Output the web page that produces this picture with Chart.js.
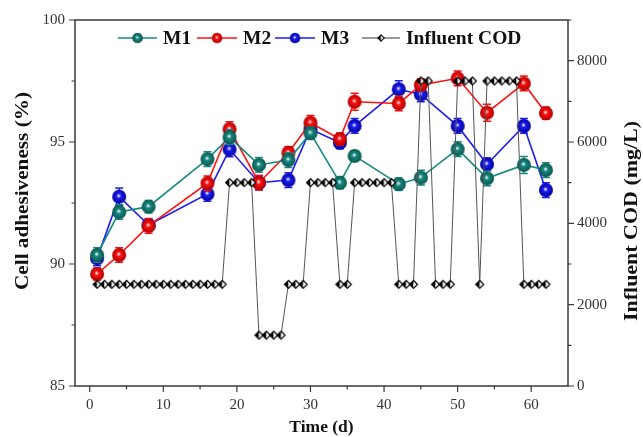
<!DOCTYPE html>
<html>
<head>
<meta charset="utf-8">
<script src="https://cdn.jsdelivr.net/npm/chart.js@4/dist/chart.umd.min.js"></script>
<style>
  html, body { margin: 0; padding: 0; background: #fff; }
  #wrap { width: 643px; height: 437px; }
</style>
</head>
<body>
<div id="wrap"><canvas id="chart" width="643" height="437"></canvas></div>
<script>
// sampling days for the three membranes
const sampleDays = [1, 4, 8, 16, 19, 23, 27, 30, 34, 36, 42, 45, 50, 54, 59, 62];

const m1Values = [90.37, 92.13, 92.35, 94.3, 95.2, 94.06, 94.26, 95.36, 93.33, 94.43, 93.27, 93.54, 94.71, 93.51, 94.06, 93.85];
const m2Values = [89.59, 90.37, 91.56, 93.31, 95.53, 93.33, 94.56, 95.79, 95.12, 96.65, 96.58, 97.34, 97.61, 96.2, 97.4, 96.18];
const m3Values = [90.23, 92.76, 91.6, 92.87, 94.7, 93.33, 93.44, 95.53, 94.97, 95.66, 97.16, 96.95, 95.66, 94.09, 95.66, 93.03];

const m1Errors = [0.3, 0.3, 0.25, 0.3, 0.3, 0.3, 0.3, 0.25, 0.25, 0.2, 0.25, 0.3, 0.3, 0.3, 0.35, 0.3];
const m2Errors = [0.25, 0.3, 0.3, 0.3, 0.3, 0.3, 0.25, 0.3, 0.25, 0.35, 0.3, 0.25, 0.3, 0.35, 0.3, 0.25];
const m3Errors = [0.3, 0.35, 0.25, 0.3, 0.3, 0.3, 0.3, 0.3, 0.25, 0.3, 0.35, 0.3, 0.3, 0.25, 0.3, 0.3];

// daily influent COD (mg/L)
const codDays = [
  1, 2, 3, 4, 5, 6, 7, 8, 9, 10, 11, 12, 13, 14, 15, 16, 17, 18, 19, 20, 21,
  22, 23, 24, 25, 26, 27, 28, 29, 30, 31, 32, 33, 34, 35, 36, 37, 38, 39, 40, 41,
  42, 43, 44, 45, 46, 47, 48, 49, 50, 51, 52, 53, 54, 55, 56, 57, 58, 59, 60, 61, 62
];
const codValues = [
  2500, 2500, 2500, 2500, 2500, 2500, 2500, 2500, 2500, 2500, 2500, 2500, 2500, 2500, 2500, 2500, 2500, 2500,
  5000, 5000, 5000, 5000,
  1250, 1250, 1250, 1250,
  2500, 2500, 2500,
  5000, 5000, 5000, 5000,
  2500, 2500,
  5000, 5000, 5000, 5000, 5000, 5000,
  2500, 2500, 2500,
  7500, 7500,
  2500, 2500, 2500,
  7500, 7500, 7500,
  2500,
  7500, 7500, 7500, 7500, 7500,
  2500, 2500, 2500, 2500
];

const xTicks = [0, 10, 20, 30, 40, 50, 60];
const leftTicks = [85, 90, 95, 100];
const rightTicks = [0, 2000, 4000, 6000, 8000];

const SERIF = '"Liberation Serif", "Times New Roman", serif';
const AXIS = '#3a3a3a';

function sphere(color, dark) {
  const c = document.createElement('canvas');
  c.width = 16; c.height = 16;
  const g = c.getContext('2d');
  const grad = g.createRadialGradient(7.5, 7, 0.3, 8, 8, 7.5);
  grad.addColorStop(0, '#f4f4f4');
  grad.addColorStop(0.28, color);
  grad.addColorStop(1, dark);
  g.fillStyle = grad;
  g.beginPath();
  g.arc(8, 8, 7, 0, Math.PI * 2);
  g.fill();
  return c;
}

function halfDiamond() {
  const c = document.createElement('canvas');
  c.width = 11; c.height = 11;
  const g = c.getContext('2d');
  g.beginPath();
  g.moveTo(5.5, 1.5); g.lineTo(1.5, 5.5); g.lineTo(5.5, 9.5); g.closePath();
  g.fillStyle = '#000'; g.fill();
  g.beginPath();
  g.moveTo(5.5, 1.5); g.lineTo(9.5, 5.5); g.lineTo(5.5, 9.5); g.closePath();
  g.fillStyle = '#fff'; g.fill();
  g.beginPath();
  g.moveTo(5.5, 1.5); g.lineTo(9.5, 5.5); g.lineTo(5.5, 9.5); g.lineTo(1.5, 5.5); g.closePath();
  g.strokeStyle = '#000'; g.lineWidth = 1.2; g.stroke();
  return c;
}

const series = [
  { label: 'M1', values: m1Values, errors: m1Errors, color: '#168a80', dark: '#0b4f49' },
  { label: 'M2', values: m2Values, errors: m2Errors, color: '#ff1010', dark: '#a00000' },
  { label: 'M3', values: m3Values, errors: m3Errors, color: '#1c1cf5', dark: '#00008f' }
];

const diamond = halfDiamond();

const datasets = [{
  label: 'Influent COD',
  data: codDays.map((d, i) => ({ x: d, y: codValues[i] })),
  yAxisID: 'y2',
  borderColor: '#555',
  borderWidth: 1,
  pointStyle: diamond,
  pointRadius: 5,
  tension: 0
}];
series.forEach(s => {
  s.img = sphere(s.color, s.dark);
  datasets.push({
    label: s.label,
    data: sampleDays.map((d, i) => ({ x: d, y: s.values[i] })),
    errors: s.errors,
    yAxisID: 'y',
    borderColor: s.color,
    borderWidth: 1.6,
    pointStyle: s.img,
    pointRadius: 7,
    tension: 0
  });
});

// error bars go under each line's markers
const errorBars = {
  id: 'errorBars',
  beforeDatasetDraw(chart, args) {
    const ds = chart.data.datasets[args.index];
    if (!ds.errors) return;
    const ys = chart.scales.y;
    const ctx = chart.ctx;
    ctx.save();
    ctx.strokeStyle = ds.borderColor;
    ctx.lineWidth = 1.5;
    args.meta.data.forEach((pt, i) => {
      const v = ds.data[i].y, e = ds.errors[i];
      const top = ys.getPixelForValue(v + e);
      const bot = ys.getPixelForValue(v - e);
      ctx.beginPath();
      ctx.moveTo(pt.x, top); ctx.lineTo(pt.x, bot);
      ctx.moveTo(pt.x - 4, top); ctx.lineTo(pt.x + 4, top);
      ctx.moveTo(pt.x - 4, bot); ctx.lineTo(pt.x + 4, bot);
      ctx.stroke();
    });
    ctx.restore();
  }
};

// vertical title stretched to a given length
function sideTitle(ctx, text, x, y, length) {
  ctx.save();
  ctx.translate(x, y);
  ctx.rotate(-Math.PI / 2);
  const w = ctx.measureText(text).width;
  ctx.scale(length / w, 1);
  ctx.fillText(text, 0, 0);
  ctx.restore();
}

// frame, tick marks, axis titles and the in-plot legend
const decorations = {
  id: 'decorations',
  afterDraw(chart) {
    const ctx = chart.ctx;
    const a = chart.chartArea;
    const xs = chart.scales.x, yl = chart.scales.y, yr = chart.scales.y2;
    ctx.save();
    ctx.strokeStyle = AXIS;
    ctx.lineWidth = 1.5;
    ctx.strokeRect(a.left, a.top, a.right - a.left, a.bottom - a.top);

    ctx.lineWidth = 1.2;
    ctx.beginPath();
    for (let v = 0; v <= 60; v += 5) {
      const px = xs.getPixelForValue(v);
      const len = v % 10 === 0 ? 6 : 3.5;
      ctx.moveTo(px, a.bottom); ctx.lineTo(px, a.bottom + len);
    }
    for (let v = 85; v <= 100; v += 2.5) {
      const py = yl.getPixelForValue(v);
      const len = v % 5 === 0 ? 6 : 3.5;
      ctx.moveTo(a.left, py); ctx.lineTo(a.left - len, py);
    }
    for (let v = 0; v <= 9000; v += 1000) {
      const py = yr.getPixelForValue(v);
      const len = v % 2000 === 0 ? 6 : 3.5;
      ctx.moveTo(a.right, py); ctx.lineTo(a.right + len, py);
    }
    ctx.stroke();

    ctx.fillStyle = '#111';
    ctx.font = 'bold 17.5px ' + SERIF;
    ctx.textAlign = 'center';
    ctx.textBaseline = 'middle';
    ctx.fillText('Time (d)', (a.left + a.right) / 2, 427);

    ctx.font = 'bold 19px ' + SERIF;
    sideTitle(ctx, 'Cell adhesiveness (%)', 23, 191, 198);
    sideTitle(ctx, 'Influent COD (mg/L)', 632, 221, 200);

    // legend
    const ly = 38;
    const items = [
      { x: 118, text: 'M1', color: series[0].color, img: series[0].img, w: 39 },
      { x: 197, text: 'M2', color: series[1].color, img: series[1].img, w: 40 },
      { x: 275, text: 'M3', color: series[2].color, img: series[2].img, w: 40 },
      { x: 362, text: 'Influent COD', color: '#333', img: diamond, w: 38 }
    ];
    ctx.font = 'bold 19.5px ' + SERIF;
    ctx.textAlign = 'left';
    items.forEach(it => {
      ctx.strokeStyle = it.color;
      ctx.lineWidth = it.img === diamond ? 1 : 1.6;
      ctx.beginPath();
      ctx.moveTo(it.x, ly); ctx.lineTo(it.x + it.w, ly);
      ctx.stroke();
      const s = it.img === diamond ? 9 : 12;
      ctx.drawImage(it.img, it.x + it.w / 2 - s / 2, ly - s / 2, s, s);
      ctx.fillStyle = '#111';
      ctx.fillText(it.text, it.x + it.w + 6, ly + 1);
    });
    ctx.restore();
  }
};

new Chart(document.getElementById('chart'), {
  type: 'line',
  data: { datasets: datasets },
  plugins: [errorBars, decorations],
  options: {
    responsive: false,
    animation: false,
    layout: { padding: { top: 20, left: 0, right: 0, bottom: 0 } },
    plugins: { legend: { display: false }, tooltip: { enabled: false } },
    scales: {
      x: {
        type: 'linear',
        min: -2,
        max: 65,
        afterFit: s => { s.height = 51; },
        afterBuildTicks: s => { s.ticks = xTicks.map(v => ({ value: v })); },
        grid: { display: false, drawTicks: false },
        border: { display: false },
        ticks: { padding: 10, color: '#333', font: { family: SERIF, size: 15 }, maxRotation: 0 }
      },
      y: {
        position: 'left',
        min: 85,
        max: 100,
        afterFit: s => { s.width = 75; },
        afterBuildTicks: s => { s.ticks = leftTicks.map(v => ({ value: v })); },
        grid: { display: false, drawTicks: false },
        border: { display: false },
        ticks: { padding: 10, color: '#333', font: { family: SERIF, size: 15 } }
      },
      y2: {
        position: 'right',
        min: 0,
        max: 9000,
        afterFit: s => { s.width = 75; },
        afterBuildTicks: s => { s.ticks = rightTicks.map(v => ({ value: v })); },
        grid: { display: false, drawTicks: false },
        border: { display: false },
        ticks: {
          padding: 9, color: '#333', font: { family: SERIF, size: 15 },
          callback: v => String(v)
        }
      }
    }
  }
});
</script>
</body>
</html>
